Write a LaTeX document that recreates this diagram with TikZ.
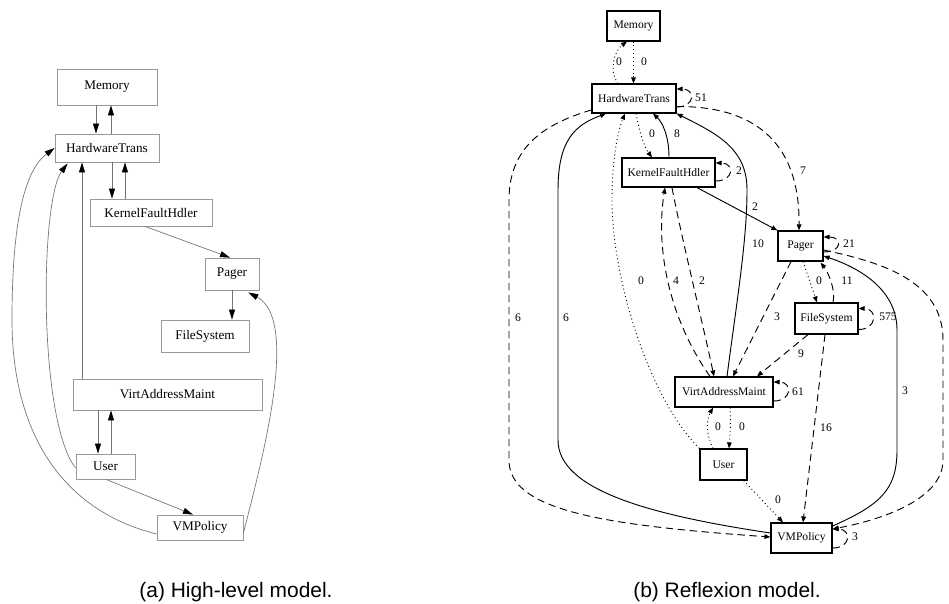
\documentclass[tikz,border=0pt]{standalone}
\usepackage{fontspec}
\setmainfont{Liberation Serif}
\newfontfamily\capfont{Liberation Sans}
\usetikzlibrary{arrows.meta,calc}

\begin{document}
\begin{tikzpicture}[x=0.75pt,y=-0.75pt,
  lbox/.style={draw=black!40, line width=0.6pt, inner sep=0pt, font=\fontsize{9.9}{12}\selectfont},
  ledge/.style={draw=black!55, line width=0.5pt, -{Triangle[length=7.5pt,width=4.5pt,black]}},
  rbox/.style={draw=black, line width=0.9pt, inner sep=0pt, font=\fontsize{8.7}{10}\selectfont},
  redge/.style={line width=0.7pt, -{Triangle[length=4.5pt,width=3.5pt]}},
  convedge/.style={redge},
  divedge/.style={redge, dash pattern=on 5.5pt off 3.5pt},
  absedge/.style={redge, dash pattern=on 0.7pt off 2.2pt},
  elab/.style={font=\fontsize{8.7}{10}\selectfont, inner sep=0pt},
  captext/.style={font=\capfont\fontsize{15.7}{18}\selectfont, inner sep=0pt, anchor=base}
]
\fill[white] (0,0) rectangle (949,603);
\useasboundingbox (0,0) rectangle (949,603);

% ---------------- (a) high-level model ----------------
\node[lbox, minimum width=75pt,    minimum height=27pt]    (lmem)   at (107,87)      {Memory};
\node[lbox, minimum width=78pt,    minimum height=21pt]    (lht)    at (107,148)     {HardwareTrans};
\node[lbox, minimum width=91.5pt,  minimum height=20.25pt] (lkfh)   at (151,212.5)   {KernelFaultHdler};
\node[lbox, minimum width=40.5pt,  minimum height=24pt]    (lpager) at (232,274)     {Pager};
\node[lbox, minimum width=66pt,    minimum height=24pt]    (lfs)    at (205,336)     {FileSystem};
\node[lbox, minimum width=141.75pt,minimum height=23.25pt] (lvam)   at (167.5,394.5) {VirtAddressMaint};
\node[lbox, minimum width=44.25pt, minimum height=18.75pt] (luser)  at (105.5,466.5) {User};
\node[lbox, minimum width=64.5pt,  minimum height=18.75pt] (lvmp)   at (200,527.5)   {VMPolicy};

\draw[ledge] ($(lmem.south)+(-11,0)$) -- ($(lht.north)+(-11,0)$);
\draw[ledge] ($(lht.north)+(4,0)$) -- ($(lmem.south)+(4,0)$);
\draw[ledge] ($(lht.south)+(5,0)$) -- ($(lkfh.north)+(-39,0)$);
\draw[ledge] ($(lkfh.north)+(-26,0)$) -- ($(lht.south)+(18,0)$);
\draw[ledge] ($(lkfh.south)+(-6,0)$) -- ($(lpager.north)+(-2,0)$);
\draw[ledge] (lpager.south) -- ($(lfs.north)+(27,0)$);
\draw[ledge] ($(lvam.north)+(-85.5,0)$) -- ($(lht.south)+(-25,0)$);
\draw[ledge] ($(lvam.south)+(-69.5,0)$) -- ($(luser.north)+(-7.5,0)$);
\draw[ledge] ($(luser.north)+(5.5,0)$) -- ($(lvam.south)+(-56.5,0)$);
\draw[ledge] ($(luser.south)+(0.5,0)$) -- ($(lvmp.north)+(-7,0)$);
\draw[ledge] ($(luser.west)+(0,1.5)$) .. controls (38,420) and (40,200) .. ($(lht.south west)+(13,1)$);
\draw[ledge] ($(lvmp.west)+(0,6.5)$) .. controls (60,510) and (12,430) .. (12,320)
             .. controls (12,220) and (25,170) .. (lht.west);
\draw[ledge] ($(lvmp.east)+(0,5.5)$) .. controls (262,460) and (300,320) .. ($(lpager.south east)+(-11,2)$);

\node[captext] (capa) at (236,597) {(a) High-level model.};

% ---------------- (b) reflexion model ----------------
\node[rbox, minimum width=39.75pt, minimum height=22.5pt]  (rmem)   at (633.5,26)    {Memory};
\node[rbox, minimum width=63pt,    minimum height=21.75pt] (rht)    at (634,98.5)    {HardwareTrans};
\node[rbox, minimum width=69.75pt, minimum height=21.75pt] (rkfh)   at (668.5,172.5) {KernelFaultHdler};
\node[rbox, minimum width=33.75pt, minimum height=22.5pt]  (rpager) at (800.5,246)   {Pager};
\node[rbox, minimum width=47.25pt, minimum height=23.25pt] (rfs)    at (826.5,318.5) {FileSystem};
\node[rbox, minimum width=73.5pt,  minimum height=22.5pt]  (rvam)   at (724,392)     {VirtAddressMaint};
\node[rbox, minimum width=35.25pt, minimum height=23.25pt] (ruser)  at (723.5,464.5) {User};
\node[rbox, minimum width=45.75pt, minimum height=22.5pt]  (rvmp)   at (801.5,538)   {VMPolicy};

% absences (dotted)
\draw[absedge] ($(rht.north)+(-16,0)$) .. controls (608,70) and (615,50) .. ($(rmem.south)+(-6.5,0)$);
\draw[absedge] (rmem.south) -- ($(rht.north)+(-0.5,0)$);
\draw[absedge] ($(rht.south)+(2,0)$) .. controls (640,135) and (645,148) .. ($(rkfh.north)+(-16.5,0)$);
\draw[absedge] (ruser.north west) .. controls (650,400) and (612,280) .. (612,200)
               .. controls (612,160) and (618,130) .. ($(rht.south)+(-9,0)$);
\draw[absedge] ($(rvam.south)+(6,0)$) .. controls (731,425) and (730,435) .. ($(ruser.north)+(5.5,0)$);
\draw[absedge] ($(ruser.north)+(-10.5,0)$) .. controls (706,435) and (706,420) .. ($(rvam.south)+(-11,0)$);
\draw[absedge] ($(ruser.south east)+(-4,0)$) -- ($(rvmp.north)+(-18.5,0)$);
\draw[absedge] ($(rpager.south)+(2.5,0)$) -- ($(rfs.north)+(-9.5,0)$);

% convergences (solid)
\draw[convedge] ($(rkfh.north)+(0.5,0)$) .. controls (669,135) and (662,122) .. ($(rht.south)+(19,0)$);
\draw[convedge] ($(rvam.north)+(3,0)$) .. controls (737,300) and (747,240) .. (747,190)
                .. controls (747,150) and (720,135) .. (rht.south east);
\draw[convedge] ($(rkfh.south)+(28.5,0)$) -- (rpager.north west);
\draw[convedge] ($(rvmp.west)+(0,-5)$) .. controls (650,515) and (558,490) .. (558,440) -- (558,190)
                .. controls (558,140) and (575,125) .. ($(rht.south)+(-28,0)$);
\draw[convedge] ($(rvmp.east)+(0,-12)$) .. controls (880,505) and (897,490) .. (897,450) -- (897,330)
                .. controls (897,290) and (860,268) .. ($(rpager.east)+(0,10)$);

% divergences (dashed)
\draw[divedge] ($(rht.west)+(0,11.5)$) .. controls (540,125) and (509,150) .. (509,200) -- (509,460)
               .. controls (509,510) and (600,525) .. ($(rvmp.west)+(0,-1)$);
\draw[divedge] ($(rht.east)+(0,8)$) .. controls (740,106) and (800,130) .. ($(rpager.north)+(-1.5,0)$);
\draw[divedge] ($(rkfh.south)+(3.5,0)$) .. controls (682,240) and (702,320) .. ($(rvam.north)+(-10,0)$);
\draw[divedge] ($(rvam.north)+(-14,0)$) .. controls (670,320) and (655,250) .. ($(rkfh.south)+(-3.5,0)$);
\draw[divedge] ($(rpager.south)+(-9.5,0)$) -- ($(rvam.north)+(9,0)$);
\draw[divedge] ($(rfs.south)+(-18.5,0)$) -- ($(rvam.north)+(33,0)$);
\draw[divedge] ($(rfs.north)+(6.5,0)$) .. controls (836,290) and (828,272) .. ($(rpager.south east)+(-3,1)$);
\draw[divedge] ($(rfs.south)+(-1.5,0)$) -- ($(rvmp.north)+(1.5,0)$);
\draw[divedge] ($(rpager.east)+(0,4)$) .. controls (880,262) and (943,280) .. (943,340) -- (943,460)
               .. controls (943,500) and (880,520) .. ($(rvmp.east)+(0,-9)$);

% self loops
\draw[divedge] ($(rht.east)+(0,8.5)$)   .. controls +(19,0) and +(19,0) .. ($(rht.east)+(0,-9.5)$);
\draw[divedge] ($(rkfh.east)+(0,8.5)$)  .. controls +(19,0) and +(19,0) .. ($(rkfh.east)+(0,-9.5)$);
\draw[divedge] ($(rpager.east)+(0,6)$)  .. controls +(19,0) and +(19,0) .. ($(rpager.east)+(0,-9)$);
\draw[divedge] ($(rfs.east)+(0,11)$)    .. controls +(19,0) and +(19,0) .. ($(rfs.east)+(0,-10)$);
\draw[divedge] ($(rvam.east)+(0,9)$)    .. controls +(19,0) and +(19,0) .. ($(rvam.east)+(0,-10)$);
\draw[divedge] ($(rvmp.east)+(0,10)$)   .. controls +(19,0) and +(19,0) .. ($(rvmp.east)+(0,-9)$);

% edge labels
\node[elab] (e1)  at (619,62)  {0};
\node[elab] (e2)  at (644,62)  {0};
\node[elab] (e3)  at (652,134) {0};
\node[elab] (e4)  at (677,134) {8};
\node[elab] (e5)  at (701,98)  {51};
\node[elab] (e6)  at (739,171) {2};
\node[elab] (e7)  at (803,171) {7};
\node[elab] (e8)  at (755,207) {2};
\node[elab] (e9)  at (758,244) {10};
\node[elab] (e10) at (849,244) {21};
\node[elab] (e11) at (641,281) {0};
\node[elab] (e12) at (676,281) {4};
\node[elab] (e13) at (702,281) {2};
\node[elab] (e14) at (819,281) {0};
\node[elab] (e15) at (847,281) {11};
\node[elab] (e16) at (518,318) {6};
\node[elab] (e17) at (566,318) {6};
\node[elab] (e18) at (777,317) {3};
\node[elab] (e19) at (888,317) {575};
\node[elab] (e20) at (801,354) {9};
\node[elab] (e21) at (905,391) {3};
\node[elab] (e22) at (798,392) {61};
\node[elab] (e23) at (718,427) {0};
\node[elab] (e24) at (742,427) {0};
\node[elab] (e25) at (826,428) {16};
\node[elab] (e26) at (778,500) {0};
\node[elab] (e27) at (855,537) {3};

\node[captext] (capb) at (727,597) {(b) Reflexion model.};
\end{tikzpicture}
\end{document}
